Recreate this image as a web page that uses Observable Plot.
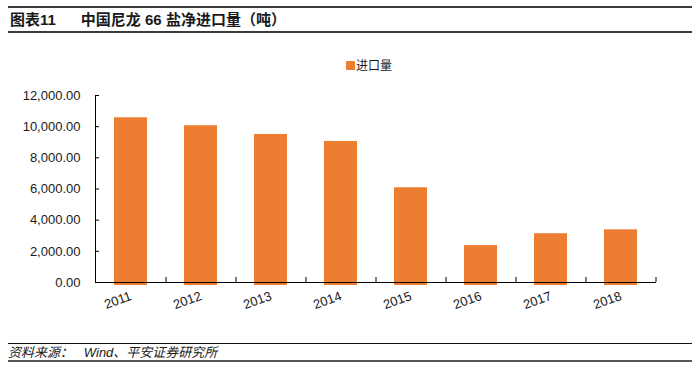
<!DOCTYPE html>
<html>
<head>
<meta charset="utf-8">
<script src="https://cdn.jsdelivr.net/npm/d3@7"></script>
<script src="https://cdn.jsdelivr.net/npm/@observablehq/plot@0.6"></script>
<style>
  html, body { margin: 0; padding: 0; background: #fff; }
  #wrap { position: relative; width: 700px; height: 371px; overflow: hidden;
          font-family: "Liberation Sans", Arial, "Noto Sans CJK SC", sans-serif; color: #1a1a1a; }
  .abs { position: absolute; }
  #chart { position: absolute; left: 0; top: 0; }
</style>
</head>
<body>
<div id="wrap">
  <div id="chart"></div>
  <div class="abs" style="left:8px; top:6px; width:684px; height:2px; background:#3a3a3a;"></div>
  <div class="abs" style="left:10px; top:11px; font-size:15px; font-weight:bold; white-space:pre; line-height:18px;">图表11      中国尼龙 66 盐净进口量（吨）</div>
  <div class="abs" style="left:8px; top:31px; width:684px; height:1.5px; background:#3a3a3a;"></div>
  <div class="abs" style="left:346px; top:61px; width:9px; height:9px; background:#ED7D31; border-radius:1px;"></div>
  <div class="abs" style="left:356px; top:58px; font-size:12px; line-height:16px;">进口量</div>
  <div class="abs" style="left:8px; top:343px; width:684px; height:1px; background:#111;"></div>
  <div class="abs" style="left:8px; top:345px; font-size:13px; font-style:italic; white-space:pre; line-height:16px;">资料来源：   Wind、平安证券研究所</div>
  <div class="abs" style="left:8px; top:360px; width:684px; height:2px; background:#555;"></div>
</div>
<script>
const years = ["2011", "2012", "2013", "2014", "2015", "2016", "2017", "2018"];
const imports = [10570, 10060, 9500, 9050, 6080, 2370, 3130, 3380];
const yTicks = [0, 2000, 4000, 6000, 8000, 10000, 12000];

const data = years.map((y, i) => ({year: y, value: imports[i]}));

const chart = Plot.plot({
  width: 700,
  height: 371,
  marginLeft: 95,
  marginRight: 45,
  marginTop: 95,
  marginBottom: 89,
  style: {
    fontFamily: '"Liberation Sans", Arial, "Noto Sans CJK SC", sans-serif',
    fontSize: "13px",
    color: "#1a1a1a",
    background: "transparent"
  },
  x: {domain: years, paddingInner: 0.53, paddingOuter: 0.265, label: null},
  y: {domain: [0, 12000], label: null},
  marks: [
    Plot.barY(data, {x: "year", y: "value", fill: "#ED7D31", insetBottom: -3}),
    Plot.axisY(yTicks, {tickSize: 0, tickPadding: 15, tickFormat: d3.format(",.2f"), fontSize: 13, label: null}),
    Plot.axisY(yTicks, {tickSize: 4, dx: 4, tickFormat: () => "", stroke: "#000", label: null}),
    Plot.axisX({tickSize: 0, tickPadding: 13, tickRotate: -20, fontSize: 13, label: null}),
    Plot.axisX({tickSize: 5, dx: 35, dy: -5, tickFormat: () => "", stroke: "#000", label: null}),
    Plot.frame({anchor: "left", stroke: "#000"}),
    Plot.frame({anchor: "bottom", stroke: "#000"})
  ]
});
document.getElementById("chart").appendChild(chart);
</script>
</body>
</html>
